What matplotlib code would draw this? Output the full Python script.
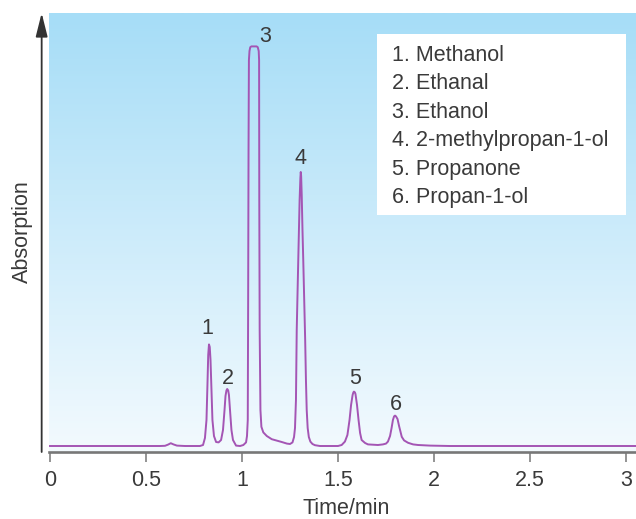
import numpy as np
import matplotlib
matplotlib.use("Agg")
import matplotlib.pyplot as plt
from matplotlib.colors import LinearSegmentedColormap
from matplotlib.patches import Rectangle

plt.rcParams['font.family'] = ['Liberation Sans', 'DejaVu Sans']

# chromatogram trace (time in min, absorption in arbitrary units)
time_min = [
    0.000, 0.573, 0.599, 0.615, 0.629, 0.643, 0.661, 0.703, 0.781, 0.797,
    0.807, 0.815, 0.820, 0.824, 0.828, 0.832, 0.836, 0.841, 0.846, 0.854,
    0.865, 0.878, 0.891, 0.901, 0.909, 0.914, 0.919, 0.923, 0.928, 0.932,
    0.9375, 0.945, 0.953, 0.969, 0.990, 1.007, 1.021, 1.026, 1.030, 1.032,
    1.034, 1.036, 1.039, 1.043, 1.049, 1.076, 1.082, 1.087, 1.089, 1.090,
    1.092, 1.096, 1.101, 1.111, 1.129, 1.155, 1.207, 1.234, 1.250, 1.263,
    1.271, 1.276, 1.281, 1.285, 1.293, 1.300, 1.304, 1.306, 1.308, 1.311,
    1.315, 1.319, 1.324, 1.329, 1.333, 1.337, 1.342, 1.348, 1.356, 1.367,
    1.380, 1.406, 1.500, 1.519, 1.536, 1.549, 1.560, 1.568, 1.576, 1.580,
    1.583, 1.588, 1.591, 1.599, 1.607, 1.615, 1.623, 1.641, 1.656, 1.708,
    1.734, 1.750, 1.760, 1.771, 1.779, 1.786, 1.792, 1.797, 1.802, 1.810,
    1.818, 1.832, 1.844, 1.865, 1.891, 1.917, 1.979, 2.083, 2.500, 3.060,
]
absorption = [
    0.0, 0.0, 0.05, 0.35, 0.7, 0.4, 0.1, 0.0, 0.0, 0.25,
    2.0, 6.5, 15.25, 22.75, 25.4, 24.75, 21.5, 14.0, 6.5, 2.5,
    1.0, 0.9, 1.5, 4.0, 9.0, 12.5, 13.9, 14.25, 13.9, 12.75,
    9.0, 4.0, 1.5, 0.1, 0.0, 0.25, 0.9, 2.5, 6.5, 36.5,
    74.0, 96.5, 98.75, 99.7, 99.9, 99.9, 99.7, 98.75, 96.5, 61.5,
    29.0, 9.0, 4.8, 3.4, 2.5, 1.7, 1.0, 0.6, 0.5, 0.9,
    2.25, 4.5, 11.5, 29.0, 46.5, 61.5, 67.0, 68.5, 67.5, 62.75,
    54.0, 46.5, 36.5, 26.5, 16.5, 9.0, 4.5, 2.25, 1.1, 0.5,
    0.2, 0.0, 0.0, 0.25, 1.1, 2.75, 6.5, 10.25, 12.75, 13.4,
    13.6, 13.4, 13.0, 10.25, 6.5, 3.25, 1.5, 0.75, 0.4, 0.25,
    0.4, 0.6, 1.1, 2.5, 4.5, 6.5, 7.4, 7.6, 7.4, 6.75,
    5.0, 2.3, 1.4, 0.8, 0.4, 0.25, 0.1, 0.0, 0.0, 0.0,
]

peak_numbers = ["1", "2", "3", "4", "5", "6"]
peak_times = [0.828, 0.923, 1.060, 1.306, 1.583, 1.797]
compounds = ["Methanol", "Ethanal", "Ethanol", "2-methylpropan-1-ol",
             "Propanone", "Propan-1-ol"]
x_ticks = [0, 0.5, 1, 1.5, 2, 2.5, 3]
x_tick_labels = ["0", "0.5", "1", "1.5", "2", "2.5", "3"]

W, H = 636, 519
fig = plt.figure(figsize=(W / 100, H / 100), dpi=100)
ax = fig.add_axes([49 / W, 1 - 452 / H, 587 / W, 439 / H])

xmin, xmax = -1 / 192, 3.052
ymin, ymax = -1.5, 108.25

# sky blue gradient behind the plot
sky = LinearSegmentedColormap.from_list("sky", ["#f3fafe", "#a6ddf7"])
grad = np.linspace(0, 1, 256).reshape(-1, 1)
ax.imshow(grad, extent=[xmin, xmax, ymin, ymax], origin="lower",
          aspect="auto", cmap=sky, zorder=0)

ax.plot(time_min, absorption, color="#a455b4", lw=1.4,
        solid_joinstyle="round", zorder=3)

text_col = "#3a3a3a"
label_offsets = [(-1.5, 15.5), (0.4, 11), (12, 9.5), (0, 13), (1, 13), (1, 11)]
for num, t, off in zip(peak_numbers, peak_times, label_offsets):
    a = np.interp(t, time_min, absorption)
    ax.annotate(num, (t, a), xytext=off, textcoords="offset pixels",
                ha="center", va="center", fontsize=15.5, color=text_col,
                zorder=4)

ax.set_xlim(xmin, xmax)
ax.set_ylim(ymin, ymax)

for side in ["top", "right", "left"]:
    ax.spines[side].set_visible(False)
ax.spines["bottom"].set_color("#777777")
ax.spines["bottom"].set_linewidth(1.9)
ax.spines["bottom"].set_zorder(5)

ax.set_yticks([])
ax.set_xticks(x_ticks)
ax.set_xticklabels(x_tick_labels)
ax.tick_params(axis="x", length=7.2, width=1.1, color="#777777",
               pad=5.5, labelsize=15.5, labelcolor=text_col)

# vertical arrow for the absorption axis
ax.annotate("", xy=(-0.0125, 1.0), xytext=(-0.0125, 0.0),
            xycoords="axes fraction", textcoords="axes fraction",
            annotation_clip=False,
            arrowprops=dict(arrowstyle="-|>,head_length=14.4,head_width=3.6",
                            mutation_scale=1, lw=1.3, color="#333333",
                            shrinkA=0, shrinkB=0))

# key box
ax.add_patch(Rectangle((0.5593, 0.5399), 0.4232, 0.4116,
                       transform=ax.transAxes, facecolor="white",
                       edgecolor="none", zorder=4))
for i, name in enumerate(compounds):
    ax.text(0.5838, 0.8907 - i * 0.0649, f"{i + 1}. {name}",
            transform=ax.transAxes, ha="left", va="baseline",
            fontsize=15.5, color=text_col, zorder=5)

fig.text(346 / W, 1 - 508 / H, "Time/min", ha="center", va="center",
         fontsize=15.5, color=text_col)
fig.text(22 / W, 1 - 232 / H, "Absorption", ha="center", va="center",
         rotation=90, fontsize=15.5, color=text_col)

fig.savefig("out.png", dpi=100)
